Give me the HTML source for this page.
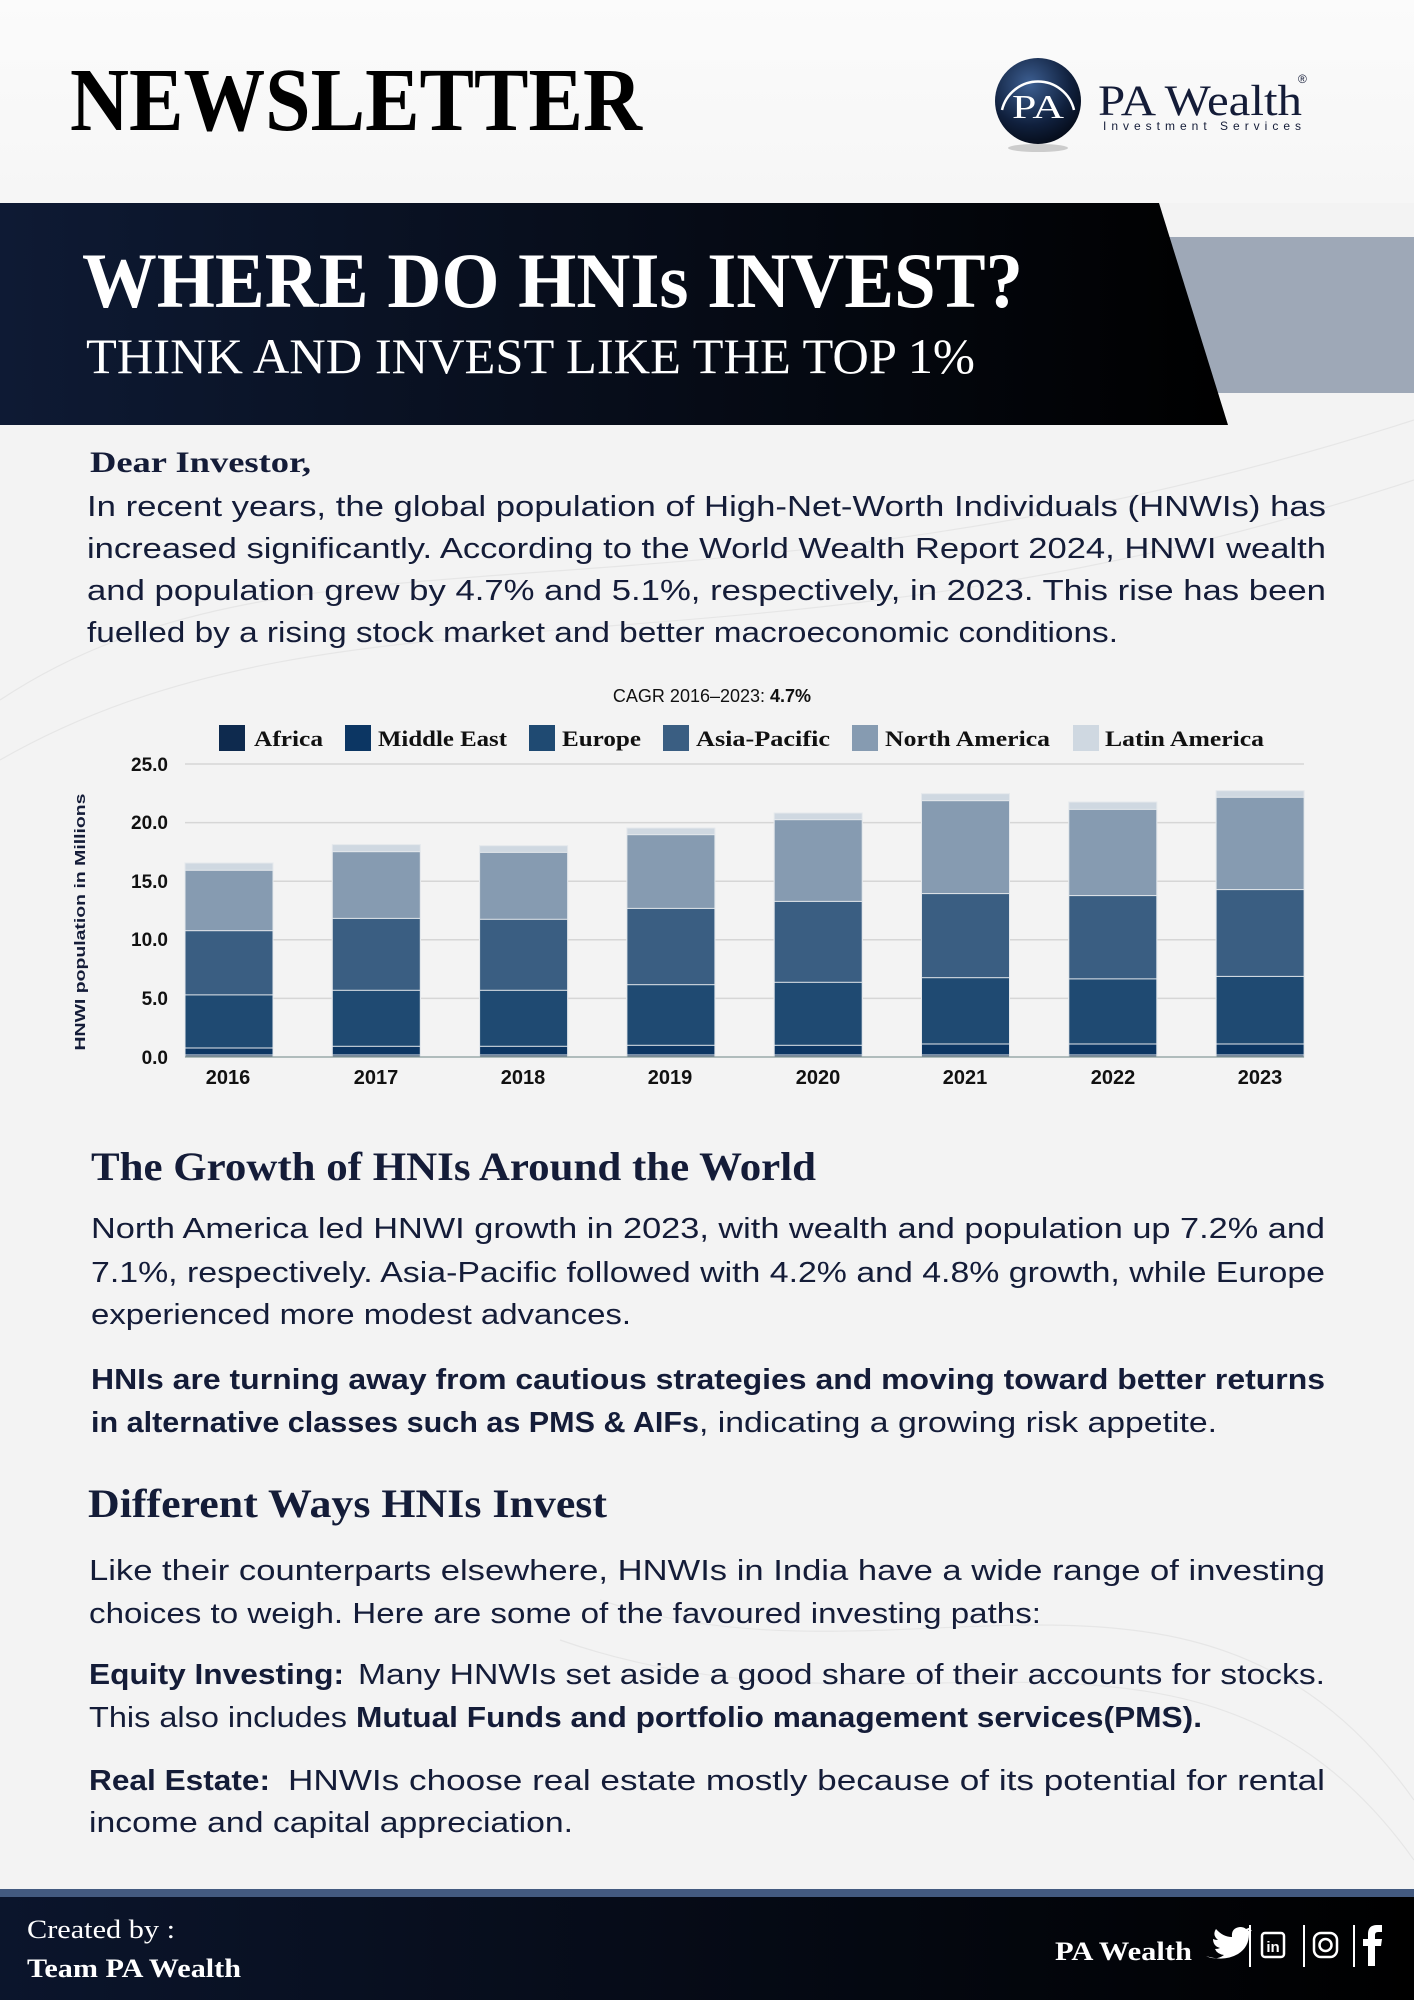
<!DOCTYPE html>
<html><head><meta charset="utf-8"><style>html,body{margin:0;padding:0;background:#f3f3f3}svg{display:block}</style></head>
<body>
<svg width="1414" height="2000" viewBox="0 0 1414 2000" xmlns="http://www.w3.org/2000/svg">
<defs>
<linearGradient id="top" x1="0" y1="0" x2="0" y2="1"><stop offset="0" stop-color="#fbfbfb"/><stop offset="1" stop-color="#f6f6f6"/></linearGradient>
<linearGradient id="ban" x1="0" y1="0" x2="1" y2="0"><stop offset="0" stop-color="#0e1a34"/><stop offset="1" stop-color="#000"/></linearGradient>
<linearGradient id="foot" x1="0" y1="0" x2="1" y2="0"><stop offset="0" stop-color="#0b152c"/><stop offset="1" stop-color="#000"/></linearGradient>
<radialGradient id="orb" cx="0.4" cy="0.3" r="0.8"><stop offset="0" stop-color="#3d5f92"/><stop offset="0.6" stop-color="#10203d"/><stop offset="1" stop-color="#02060f"/></radialGradient>
</defs>
<rect width="1414" height="2000" fill="#f3f3f3"/>
<rect width="1414" height="203" fill="url(#top)"/>
<g fill="none" stroke="#e6e6e6" stroke-width="1.2">
<path d="M0 700 C300 500 700 650 1414 420"/><path d="M0 760 C350 560 750 700 1414 480"/>
<path d="M600 1600 C900 1700 1200 1500 1414 1800"/><path d="M560 1640 C900 1760 1200 1560 1414 1860"/>
</g>
<!-- header -->
<text x="70" y="130" font-family="Liberation Serif, serif" font-weight="bold" font-size="90" fill="#000" textLength="572" lengthAdjust="spacingAndGlyphs">NEWSLETTER</text>
<ellipse cx="1038" cy="148" rx="30" ry="4" fill="#ccc"/>
<circle cx="1038" cy="101" r="43" fill="url(#orb)"/>
<path d="M1002 110 A37 37 0 0 1 1074 110" fill="none" stroke="#fff" stroke-width="2.5"/>
<text x="1038" y="118" text-anchor="middle" font-family="Liberation Serif, serif" font-size="34" fill="#fff" textLength="52" lengthAdjust="spacingAndGlyphs">PA</text>
<text x="1098" y="115" font-family="Liberation Serif, serif" font-size="43" fill="#141c38" textLength="204" lengthAdjust="spacingAndGlyphs">PA Wealth</text>
<text x="1298" y="83" font-family="Liberation Sans, sans-serif" font-size="12" fill="#141c38">®</text>
<text x="1103" y="130" font-family="Liberation Sans, sans-serif" font-size="12" fill="#141c38" textLength="198" lengthAdjust="spacing">Investment Services</text>
<!-- banner -->
<rect x="1100" y="237" width="314" height="156" fill="#9ea8b7"/>
<polygon points="0,203 1159,203 1228,425 0,425" fill="url(#ban)"/>
<text x="82" y="307" font-family="Liberation Serif, serif" font-weight="bold" font-size="78" fill="#fff" textLength="941" lengthAdjust="spacingAndGlyphs">WHERE DO HNIs INVEST?</text>
<text x="86" y="373" font-family="Liberation Serif, serif" font-size="50" fill="#fff" textLength="889" lengthAdjust="spacingAndGlyphs">THINK AND INVEST LIKE THE TOP 1%</text>
<!-- intro -->
<g font-family="Liberation Sans, sans-serif" font-size="29" fill="#141c38">
<text x="90" y="472" font-family="Liberation Serif, serif" font-weight="bold" font-size="30" textLength="221" lengthAdjust="spacingAndGlyphs">Dear Investor,</text>
<text x="87" y="516" textLength="1239" lengthAdjust="spacingAndGlyphs">In recent years, the global population of High-Net-Worth Individuals (HNWIs) has</text>
<text x="87" y="558" textLength="1239" lengthAdjust="spacingAndGlyphs">increased significantly. According to the World Wealth Report 2024, HNWI wealth</text>
<text x="87" y="600" textLength="1239" lengthAdjust="spacingAndGlyphs">and population grew by 4.7% and 5.1%, respectively, in 2023. This rise has been</text>
<text x="87" y="642" textLength="1031" lengthAdjust="spacingAndGlyphs">fuelled by a rising stock market and better macroeconomic conditions.</text>
</g>
<!-- chart -->
<text x="712" y="702" text-anchor="middle" font-family="Liberation Sans, sans-serif" font-size="18" fill="#111">CAGR 2016–2023: <tspan font-weight="bold">4.7%</tspan></text>
<g font-family="Liberation Serif, serif" font-weight="bold" font-size="22" fill="#111">
<rect x="219" y="725" width="26" height="26" fill="#0e2a4e"/><text x="254" y="746" textLength="69" lengthAdjust="spacingAndGlyphs">Africa</text>
<rect x="345" y="725" width="26" height="26" fill="#0c3663"/><text x="378" y="746" textLength="129" lengthAdjust="spacingAndGlyphs">Middle East</text>
<rect x="529" y="725" width="26" height="26" fill="#1f4a72"/><text x="562" y="746" textLength="79" lengthAdjust="spacingAndGlyphs">Europe</text>
<rect x="663" y="725" width="26" height="26" fill="#3a5e82"/><text x="696" y="746" textLength="134" lengthAdjust="spacingAndGlyphs">Asia-Pacific</text>
<rect x="852" y="725" width="26" height="26" fill="#869bb1"/><text x="885" y="746" textLength="165" lengthAdjust="spacingAndGlyphs">North America</text>
<rect x="1073" y="725" width="26" height="26" fill="#cfd8e1"/><text x="1105" y="746" textLength="159" lengthAdjust="spacingAndGlyphs">Latin America</text>
</g>
<g stroke="#d6d6d6" stroke-width="1.5">
<line x1="185" x2="1304" y1="764" y2="764"/><line x1="185" x2="1304" y1="822.6" y2="822.6"/><line x1="185" x2="1304" y1="881.2" y2="881.2"/><line x1="185" x2="1304" y1="939.8" y2="939.8"/><line x1="185" x2="1304" y1="998.4" y2="998.4"/>
</g>
<g font-family="Liberation Sans, sans-serif" font-weight="bold" font-size="19" fill="#111" text-anchor="end">
<text x="168" y="771">25.0</text><text x="168" y="829">20.0</text><text x="168" y="888">15.0</text><text x="168" y="946">10.0</text><text x="168" y="1005">5.0</text><text x="168" y="1064">0.0</text>
</g>
<text transform="translate(85,922) rotate(-90)" text-anchor="middle" font-family="Liberation Sans, sans-serif" font-weight="bold" font-size="15" fill="#141c38" textLength="257" lengthAdjust="spacingAndGlyphs">HNWI population in Millions</text>
<g stroke="#e4e8ec" stroke-width="1">
<g transform="translate(185,0)"><rect y="863.0" width="88" height="194.0" fill="#cfd8e1"/><rect y="870.3" width="88" height="186.7" fill="#869bb1"/><rect y="930.7" width="88" height="126.3" fill="#3a5e82"/><rect y="994.9" width="88" height="62.1" fill="#1f4a72"/><rect y="1048.0" width="88" height="9.0" fill="#0c3663"/><rect y="1055.0" width="88" height="2.0" fill="#0e2a4e"/></g>
<g transform="translate(332.3,0)"><rect y="844.6" width="88" height="212.4" fill="#cfd8e1"/><rect y="851.7" width="88" height="205.3" fill="#869bb1"/><rect y="918.4" width="88" height="138.6" fill="#3a5e82"/><rect y="990.3" width="88" height="66.7" fill="#1f4a72"/><rect y="1046.3" width="88" height="10.7" fill="#0c3663"/><rect y="1055.0" width="88" height="2.0" fill="#0e2a4e"/></g>
<g transform="translate(479.6,0)"><rect y="845.7" width="88" height="211.3" fill="#cfd8e1"/><rect y="852.4" width="88" height="204.6" fill="#869bb1"/><rect y="919.3" width="88" height="137.7" fill="#3a5e82"/><rect y="990.3" width="88" height="66.7" fill="#1f4a72"/><rect y="1046.3" width="88" height="10.7" fill="#0c3663"/><rect y="1055.0" width="88" height="2.0" fill="#0e2a4e"/></g>
<g transform="translate(626.9,0)"><rect y="828.0" width="88" height="229.0" fill="#cfd8e1"/><rect y="834.7" width="88" height="222.3" fill="#869bb1"/><rect y="908.4" width="88" height="148.6" fill="#3a5e82"/><rect y="984.7" width="88" height="72.3" fill="#1f4a72"/><rect y="1045.3" width="88" height="11.7" fill="#0c3663"/><rect y="1055.0" width="88" height="2.0" fill="#0e2a4e"/></g>
<g transform="translate(774.2,0)"><rect y="813.0" width="88" height="244.0" fill="#cfd8e1"/><rect y="819.7" width="88" height="237.3" fill="#869bb1"/><rect y="901.4" width="88" height="155.6" fill="#3a5e82"/><rect y="982.3" width="88" height="74.7" fill="#1f4a72"/><rect y="1045.3" width="88" height="11.7" fill="#0c3663"/><rect y="1055.0" width="88" height="2.0" fill="#0e2a4e"/></g>
<g transform="translate(921.5,0)"><rect y="793.7" width="88" height="263.3" fill="#cfd8e1"/><rect y="800.7" width="88" height="256.3" fill="#869bb1"/><rect y="893.6" width="88" height="163.4" fill="#3a5e82"/><rect y="977.7" width="88" height="79.3" fill="#1f4a72"/><rect y="1044.0" width="88" height="13.0" fill="#0c3663"/><rect y="1055.0" width="88" height="2.0" fill="#0e2a4e"/></g>
<g transform="translate(1068.8,0)"><rect y="802.0" width="88" height="255.0" fill="#cfd8e1"/><rect y="809.4" width="88" height="247.6" fill="#869bb1"/><rect y="895.6" width="88" height="161.4" fill="#3a5e82"/><rect y="978.9" width="88" height="78.1" fill="#1f4a72"/><rect y="1044.0" width="88" height="13.0" fill="#0c3663"/><rect y="1055.0" width="88" height="2.0" fill="#0e2a4e"/></g>
<g transform="translate(1216.1,0)"><rect y="790.7" width="88" height="266.3" fill="#cfd8e1"/><rect y="797.3" width="88" height="259.7" fill="#869bb1"/><rect y="889.6" width="88" height="167.4" fill="#3a5e82"/><rect y="976.4" width="88" height="80.6" fill="#1f4a72"/><rect y="1044.0" width="88" height="13.0" fill="#0c3663"/><rect y="1055.0" width="88" height="2.0" fill="#0e2a4e"/></g>
</g>
<line x1="185" x2="1304" y1="1057" y2="1057" stroke="#9aa" stroke-width="1.5"/>
<g font-family="Liberation Sans, sans-serif" font-weight="bold" font-size="20" fill="#111" text-anchor="middle">
<text x="228" y="1084">2016</text><text x="376" y="1084">2017</text><text x="523" y="1084">2018</text><text x="670" y="1084">2019</text><text x="818" y="1084">2020</text><text x="965" y="1084">2021</text><text x="1113" y="1084">2022</text><text x="1260" y="1084">2023</text>
</g>
<!-- section 2 -->
<g font-family="Liberation Sans, sans-serif" font-size="29" fill="#141c38">
<text x="91" y="1180" font-family="Liberation Serif, serif" font-weight="bold" font-size="40" textLength="725" lengthAdjust="spacingAndGlyphs">The Growth of HNIs Around the World</text>
<text x="91" y="1238" textLength="1234" lengthAdjust="spacingAndGlyphs">North America led HNWI growth in 2023, with wealth and population up 7.2% and</text>
<text x="91" y="1282" textLength="1234" lengthAdjust="spacingAndGlyphs">7.1%, respectively. Asia-Pacific followed with 4.2% and 4.8% growth, while Europe</text>
<text x="91" y="1324" textLength="540" lengthAdjust="spacingAndGlyphs">experienced more modest advances.</text>
<text x="91" y="1389" font-weight="bold" textLength="1234" lengthAdjust="spacingAndGlyphs">HNIs are turning away from cautious strategies and moving toward better returns</text>
<text x="91" y="1432" font-weight="bold" textLength="608" lengthAdjust="spacingAndGlyphs">in alternative classes such as PMS &amp; AIFs</text>
<text x="699" y="1432" textLength="518" lengthAdjust="spacingAndGlyphs">, indicating a growing risk appetite.</text>
<text x="88" y="1517" font-family="Liberation Serif, serif" font-weight="bold" font-size="40" textLength="519" lengthAdjust="spacingAndGlyphs">Different Ways HNIs Invest</text>
<text x="89" y="1580" textLength="1236" lengthAdjust="spacingAndGlyphs">Like their counterparts elsewhere, HNWIs in India have a wide range of investing</text>
<text x="89" y="1623" textLength="952" lengthAdjust="spacingAndGlyphs">choices to weigh. Here are some of the favoured investing paths:</text>
<text x="89" y="1684" font-weight="bold" textLength="255" lengthAdjust="spacingAndGlyphs">Equity Investing:</text>
<text x="358" y="1684" textLength="967" lengthAdjust="spacingAndGlyphs">Many HNWIs set aside a good share of their accounts for stocks.</text>
<text x="89" y="1727" textLength="258" lengthAdjust="spacingAndGlyphs">This also includes</text>
<text x="356" y="1727" font-weight="bold" textLength="846" lengthAdjust="spacingAndGlyphs">Mutual Funds and portfolio management services(PMS).</text>
<text x="89" y="1790" font-weight="bold" textLength="181" lengthAdjust="spacingAndGlyphs">Real Estate:</text>
<text x="288" y="1790" textLength="1037" lengthAdjust="spacingAndGlyphs">HNWIs choose real estate mostly because of its potential for rental</text>
<text x="89" y="1832" textLength="484" lengthAdjust="spacingAndGlyphs">income and capital appreciation.</text>
</g>
<!-- footer -->
<rect x="0" y="1889" width="1414" height="9" fill="#435a80"/>
<rect x="0" y="1897" width="1414" height="103" fill="url(#foot)"/>
<g font-family="Liberation Serif, serif" fill="#fff">
<text x="27" y="1938" font-size="26" textLength="148" lengthAdjust="spacingAndGlyphs">Created by :</text>
<text x="27" y="1977" font-size="26" font-weight="bold" textLength="214" lengthAdjust="spacingAndGlyphs">Team PA Wealth</text>
<text x="1055" y="1960" font-size="26" font-weight="bold" textLength="137" lengthAdjust="spacingAndGlyphs">PA Wealth</text>
</g>
<g fill="#fff" stroke="#fff">
<path d="M1206 1956 q10 5 18 -1 q-7 -1 -9 -6 q3 0 5 -1 q-7 -2 -7 -9 q2 1 5 1 q-6 -5 -2 -11 q7 8 16 8 q-1 -9 8 -10 q4 0 6 2 l5 -2 l-3 4 l4 -1 l-3 4 q0 13 -11 20 q-14 8 -32 2z" stroke="none"/>
<line x1="1250" y1="1925" x2="1250" y2="1967" stroke-width="2"/>
<rect x="1262" y="1933" width="22" height="24" rx="3" fill="none" stroke-width="2.5"/>
<text x="1273" y="1952" text-anchor="middle" font-family="Liberation Sans, sans-serif" font-weight="bold" font-size="15" stroke="none">in</text>
<line x1="1304" y1="1925" x2="1304" y2="1967" stroke-width="2"/>
<rect x="1314" y="1933" width="23" height="24" rx="7" fill="none" stroke-width="2.5"/>
<circle cx="1325.5" cy="1945" r="6" fill="none" stroke-width="2.5"/>
<line x1="1354" y1="1925" x2="1354" y2="1967" stroke-width="2"/>
<path d="M1368 1966 v-20 h-5 v-7 h5 v-5 q0 -9 9 -9 h5 v7 h-4 q-3 0 -3 3 v4 h7 l-1 7 h-6 v20z" stroke="none"/>
</g>
</svg>
</body></html>
